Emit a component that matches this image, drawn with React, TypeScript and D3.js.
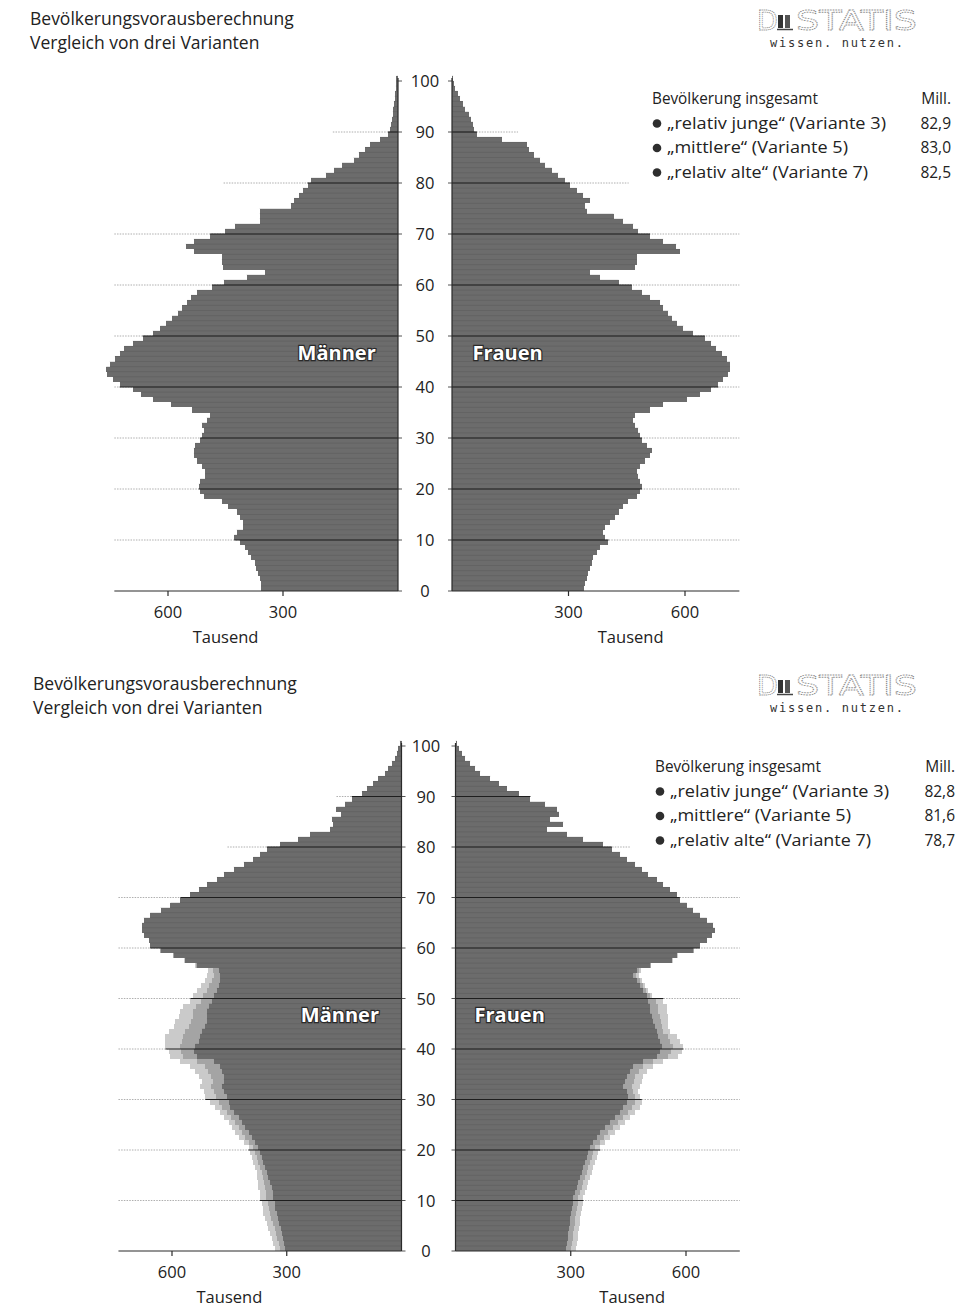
import * as d3 from 'd3';

// ages 0..100, one bar per single year
const ages = d3.range(0, 101);
const ageTicks = [0, 10, 20, 30, 40, 50, 60, 70, 80, 90, 100];
const gridAges = [10, 20, 30, 40, 50, 60, 70, 80, 90];
const gridReach = [740, 740, 740, 740, 740, 740, 740, 455, 170]; // Tausend
const valueTicks = [300, 600];

const variantNames = [
  '„relativ junge“ (Variante 3)',
  '„mittlere“ (Variante 5)',
  '„relativ alte“ (Variante 7)',
];
const topTotals = ['82,9', '83,0', '82,5'];
const bottomTotals = ['82,8', '81,6', '78,7'];

// upper pyramid (Tausend)
const topMen = [
  357, 357, 361, 365, 370, 374, 383, 391, 400, 413,
  427, 421, 404, 404, 413, 421, 443, 460, 507, 516,
  520, 516, 503, 503, 512, 525, 533, 533, 529, 516,
  512, 507, 512, 499, 490, 537, 593, 640, 670, 692,
  726, 744, 759, 761, 752, 739, 726, 714, 692, 666,
  640, 620, 605, 590, 575, 563, 550, 540, 525, 485,
  455, 395, 348, 456, 460, 458, 533, 554, 533, 490,
  451, 426, 361, 361, 361, 280, 271, 258, 249, 236,
  227, 189, 167, 146, 116, 103, 86, 73, 47, 26,
  21, 17, 15, 14, 13, 11, 9, 7, 6, 5, 4,
];
const topWomen = [
  339, 343, 347, 351, 356, 360, 364, 373, 381, 403,
  394, 390, 394, 407, 420, 429, 441, 454, 476, 484,
  489, 484, 480, 476, 484, 497, 510, 514, 501, 489,
  484, 480, 471, 467, 471, 510, 544, 604, 638, 668,
  686, 699, 711, 716, 716, 707, 694, 681, 668, 651,
  621, 596, 579, 566, 557, 544, 536, 510, 489, 463,
  429, 381, 356, 471, 476, 476, 587, 578, 544, 510,
  480, 467, 441, 416, 347, 343, 356, 338, 321, 304,
  291, 274, 257, 240, 227, 210, 197, 193, 129, 64,
  56, 54, 49, 43, 34, 28, 21, 15, 9, 4, 3,
];

// lower pyramid: variant 7 (all ages), variants 3 and 5 differ only below 60
const botMenV7 = [
  304, 307, 310, 313, 316, 319, 322, 326, 330, 332,
  335, 337, 339, 343, 348, 352, 357, 361, 365, 370,
  374, 383, 391, 400, 409, 417, 426, 439, 448, 452,
  457, 465, 470, 465, 465, 470, 474, 491, 535, 543,
  539, 530, 526, 522, 513, 509, 509, 509, 504, 496,
  491, 483, 478, 474, 474, 478, 535, 565, 596, 630,
  657, 661, 674, 678, 678, 674, 657, 630, 604, 578,
  552, 530, 509, 483, 465, 439, 413, 387, 370, 352,
  317, 270, 239, 187, 178, 183, 157, 170, 148, 130,
  104, 91, 74, 61, 43, 35, 26, 17, 13, 9, 5,
];
const botMenV3Young = [
  330, 335, 339, 343, 348, 352, 357, 361, 363, 365,
  370, 370, 374, 374, 378, 378, 383, 387, 391, 396,
  400, 413, 426, 435, 443, 452, 465, 474, 487, 500,
  513, 517, 526, 522, 530, 539, 552, 578, 604, 609,
  617, 617, 617, 609, 596, 591, 583, 578, 570, 552,
  545, 535, 525, 515, 508, 505, 540, 568, 598, 632,
];
const botMenV5Young = [
  317, 321, 325, 328, 332, 336, 340, 344, 347, 349,
  353, 354, 357, 359, 363, 365, 370, 374, 378, 383,
  387, 398, 409, 418, 426, 435, 446, 457, 468, 476,
  485, 491, 498, 494, 498, 505, 513, 535, 570, 576,
  578, 574, 572, 566, 555, 550, 546, 544, 537, 524,
  518, 509, 502, 495, 491, 492, 538, 566, 597, 631,
];
const botWomenV7 = [
  288, 290, 292, 294, 295, 297, 299, 300, 303, 306,
  307, 312, 316, 320, 325, 329, 333, 338, 342, 346,
  351, 359, 368, 377, 390, 403, 416, 429, 437, 446,
  450, 446, 437, 442, 446, 455, 463, 489, 524, 532,
  537, 532, 528, 524, 519, 515, 511, 506, 506, 502,
  498, 489, 481, 472, 463, 472, 506, 563, 576, 619,
  636, 654, 667, 675, 671, 654, 636, 619, 602, 584,
  576, 558, 541, 524, 502, 485, 468, 446, 429, 407,
  385, 333, 290, 238, 281, 247, 269, 264, 234, 195,
  164, 134, 113, 91, 65, 52, 39, 26, 17, 9, 4,
];
const botWomenV3Young = [
  314, 316, 318, 319, 321, 323, 325, 326, 329, 332,
  333, 338, 342, 346, 351, 355, 359, 364, 368, 372,
  377, 390, 403, 416, 429, 442, 455, 468, 481, 485,
  481, 476, 481, 485, 489, 498, 515, 541, 580, 589,
  593, 584, 576, 558, 554, 554, 554, 550, 550, 541,
  511, 502, 492, 485, 478, 482, 510, 565, 578, 621,
];
const botWomenV5Young = [
  301, 303, 305, 307, 308, 310, 312, 313, 316, 319,
  320, 325, 329, 333, 338, 342, 346, 351, 355, 359,
  364, 375, 386, 397, 410, 423, 436, 449, 459, 466,
  466, 461, 459, 464, 468, 477, 489, 515, 552, 561,
  565, 558, 552, 541, 537, 535, 533, 528, 528, 522,
  505, 496, 487, 479, 471, 477, 508, 564, 577, 620,
];

const FONT = '"Open Sans", "Noto Sans", sans-serif';
const LIGHT = '#cacaca';
const MID = '#a4a4a4';
const DARK = '#6c6c6c';

type Layer = { values: number[]; fill: string };

interface Geo {
  top: number; // y of title block
  titleX: number;
  base: number;
  ageTop: number;
  zeroL: number;
  sixL: number;
  zeroR: number;
  sixR: number;
  labelX: number;
  legendX: number;
  legendRight: number;
  legendY: number;
  menLabel: number;
  womenLabel: number;
}

function Header({ y, x }: { y: number; x: number }) {
  return (
    <g fontFamily={FONT} fill="#222">
      <text x={x} y={y + 25} fontSize={17.5}>Bevölkerungsvorausberechnung</text>
      <text x={x} y={y + 49} fontSize={17.5}>Vergleich von drei Varianten</text>
      {/* logo */}
      <g transform={`translate(0,${y})`}>
        <text x={757} y={30} fontFamily="DejaVu Sans" fontSize={27} fill="none" stroke="#8a8a8a"
          strokeWidth={0.9} strokeDasharray="1.2 0.8">D</text>
        <rect x={778} y={15} width={5} height={13} fill="#333" />
        <rect x={785} y={15} width={5} height={13} fill="#555" />
        <line x1={777} x2={793} y1={29.5} y2={29.5} stroke="#444" strokeWidth={1.5} />
        <text x={796} y={30} fontFamily="DejaVu Sans" fontSize={27} fill="none" stroke="#8a8a8a"
          strokeWidth={0.9} strokeDasharray="1.2 0.8" textLength={121} lengthAdjust="spacingAndGlyphs">STATIS</text>
        <text x={770} y={47} fontFamily="DejaVu Sans Mono" fontSize={12} fill="#333"
          textLength={133} lengthAdjust="spacing">wissen. nutzen.</text>
      </g>
    </g>
  );
}

function Legend({ geo, totals }: { geo: Geo; totals: string[] }) {
  const rowWidths = [219, 181, 201];
  return (
    <g fontFamily={FONT} fontSize={15.5} fill="#222">
      <text x={geo.legendX} y={geo.legendY} textLength={166} lengthAdjust="spacingAndGlyphs">Bevölkerung insgesamt</text>
      <text x={geo.legendRight} y={geo.legendY} textAnchor="end">Mill.</text>
      {variantNames.map((name, i) => {
        const yy = geo.legendY + 24.5 * (i + 1);
        return (
          <g key={name}>
            <circle cx={geo.legendX + 5} cy={yy - 5} r={4.3} fill="#2e2e2e" />
            <text x={geo.legendX + 15} y={yy} textLength={rowWidths[i]} lengthAdjust="spacingAndGlyphs">{name}</text>
            <text x={geo.legendRight} y={yy} textAnchor="end">{totals[i]}</text>
          </g>
        );
      })}
    </g>
  );
}

function Pyramid({ geo, men, women, totals }: { geo: Geo; men: Layer[]; women: Layer[]; totals: string[] }) {
  const y = d3.scaleLinear().domain([0, 100]).range([geo.base, geo.ageTop]);
  const xL = d3.scaleLinear().domain([0, 600]).range([geo.zeroL, geo.sixL]);
  const xR = d3.scaleLinear().domain([0, 600]).range([geo.zeroR, geo.sixR]);
  const outerM = men[0].values;
  const outerW = women[0].values;

  const bars = (layers: Layer[], x: d3.ScaleLinear<number, number>, side: string) =>
    layers.map((layer, li) => (
      <g key={side + li} fill={layer.fill} shapeRendering="crispEdges">
        {ages.map((a) => {
          const x0 = x(0);
          const x1 = x(layer.values[a]);
          return (
            <rect key={a} x={Math.min(x0, x1)} y={y(a + 1)} width={Math.abs(x1 - x0)} height={y(a) - y(a + 1)} />
          );
        })}
      </g>
    ));

  const edges = (layer: Layer, x: d3.ScaleLinear<number, number>) =>
    ages.map((a) => (
      <line key={a} x1={x(0)} x2={x(layer.values[a])} y1={y(a + 1)} y2={y(a + 1)}
        stroke="#333" strokeOpacity={0.22} strokeWidth={0.7} />
    ));

  return (
    <g>
      <Header y={geo.top} x={geo.titleX} />
      <Legend geo={geo} totals={totals} />

      {/* dotted grid */}
      {gridAges.map((a, i) => (
        <g key={a} stroke="#9a9a9a" strokeWidth={0.8} strokeDasharray="1.5 1.2">
          <line x1={xL(gridReach[i])} x2={xL(0)} y1={y(a)} y2={y(a)} />
          <line x1={xR(0)} x2={xR(gridReach[i])} y1={y(a)} y2={y(a)} />
        </g>
      ))}

      {bars(men, xL, 'm')}
      {bars(women, xR, 'w')}
      {edges(men[men.length - 1], xL)}
      {edges(women[women.length - 1], xR)}

      {/* decade lines over the bars */}
      {gridAges.map((a) => (
        <g key={a} stroke="#1e1e1e" strokeWidth={1.1}>
          <line x1={xL(Math.max(outerM[a], outerM[a - 1]))} x2={xL(0)} y1={y(a)} y2={y(a)} />
          <line x1={xR(0)} x2={xR(Math.max(outerW[a], outerW[a - 1]))} y1={y(a)} y2={y(a)} />
        </g>
      ))}

      {/* axes */}
      <g stroke="#2a2a2a" strokeWidth={1.2}>
        <line x1={xL(0)} x2={xL(0)} y1={y(0)} y2={y(100.6)} />
        <line x1={xR(0)} x2={xR(0)} y1={y(0)} y2={y(100.6)} />
        <line x1={xL(740)} x2={xL(0)} y1={y(0)} y2={y(0)} />
        <line x1={xR(0)} x2={xR(740)} y1={y(0)} y2={y(0)} />
        {valueTicks.map((t) => (
          <g key={t}>
            <line x1={xL(t)} x2={xL(t)} y1={y(0)} y2={y(0) + 5} />
            <line x1={xR(t)} x2={xR(t)} y1={y(0)} y2={y(0) + 5} />
          </g>
        ))}
        {ageTicks.map((a) => (
          <g key={a} strokeWidth={0.8}>
            <line x1={xL(0)} x2={xL(0) + 4} y1={y(a)} y2={y(a)} />
            <line x1={xR(0) - 4} x2={xR(0)} y1={y(a)} y2={y(a)} />
          </g>
        ))}
      </g>

      <g fontFamily={FONT} fontSize={16.5} fill="#222" textAnchor="middle">
        {ageTicks.map((a) => (
          <text key={a} x={geo.labelX} y={y(a) + 6}>{a}</text>
        ))}
        {valueTicks.map((t) => (
          <g key={t}>
            <text x={xL(t)} y={y(0) + 27}>{t}</text>
            <text x={xR(t)} y={y(0) + 27}>{t}</text>
          </g>
        ))}
        <text x={xL(450)} y={y(0) + 52}>Tausend</text>
        <text x={xR(460)} y={y(0) + 52}>Tausend</text>
      </g>

      <g fontFamily={FONT} fontSize={20} fontWeight={700} fill="#fff" stroke="#2a2a2a"
        strokeWidth={2.4} paintOrder="stroke" textAnchor="middle">
        <text x={xL(geo.menLabel)} y={y(45.3)}>Männer</text>
        <text x={xR(geo.womenLabel)} y={y(45.3)}>Frauen</text>
      </g>
    </g>
  );
}

const topGeo: Geo = {
  top: 0, titleX: 30, base: 591, ageTop: 81, zeroL: 398, sixL: 168, zeroR: 452, sixR: 685,
  labelX: 425, legendX: 652, legendRight: 951, legendY: 104, menLabel: 160, womenLabel: 143,
};
const bottomGeo: Geo = {
  top: 665, titleX: 33, base: 1251, ageTop: 746, zeroL: 401.5, sixL: 172, zeroR: 455.5, sixR: 686,
  labelX: 426, legendX: 655, legendRight: 955, legendY: 772, menLabel: 161, womenLabel: 141,
};

export default function App() {
  const menV3 = [...botMenV3Young, ...botMenV7.slice(60)];
  const menV5 = [...botMenV5Young, ...botMenV7.slice(60)];
  const womenV3 = [...botWomenV3Young, ...botWomenV7.slice(60)];
  const womenV5 = [...botWomenV5Young, ...botWomenV7.slice(60)];
  return (
    <div style={{ position: 'absolute', left: 0, top: 0 }}>
      <svg width={969} height={1314} style={{ display: 'block', background: '#fff' }}>
        <Pyramid geo={topGeo} totals={topTotals}
          men={[{ values: topMen, fill: DARK }]} women={[{ values: topWomen, fill: DARK }]} />
        <Pyramid geo={bottomGeo} totals={bottomTotals}
          men={[{ values: menV3, fill: LIGHT }, { values: menV5, fill: MID }, { values: botMenV7, fill: DARK }]}
          women={[{ values: womenV3, fill: LIGHT }, { values: womenV5, fill: MID }, { values: botWomenV7, fill: DARK }]} />
      </svg>
    </div>
  );
}
